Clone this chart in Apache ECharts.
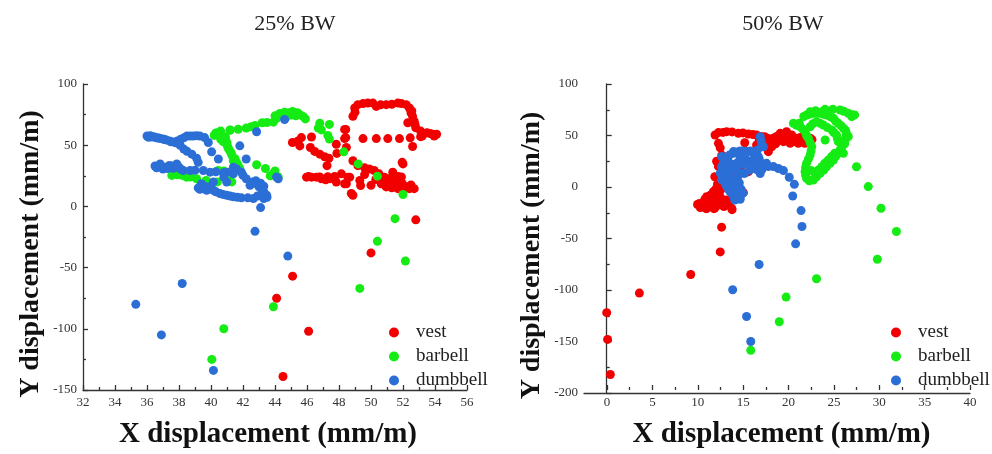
<!DOCTYPE html>
<html><head><meta charset="utf-8">
<script src="https://cdn.jsdelivr.net/npm/echarts@6/dist/echarts.min.js"></script>
<style>html,body{margin:0;padding:0;background:#fff}#c{width:992px;height:454px}</style>
</head><body><div id="c"></div>
<script>
// ---------- DATA ----------
const seriesNames = ['vest', 'barbell', 'dumbbell'];
const titles = ['25% BW', '50% BW'];
const xName = 'X displacement (mm/m)';
const yName = 'Y displacement (mm/m)';

// 25% BW
const vest25 = [
 [52.8,-11],[50.0,-38],[45.1,-57],[44.1,-75],[46.1,-102],[44.5,-139],
 [45.09,52.2],[45.44,53.5],[45.55,49.4],[45.65,56.2],[46.28,56.7],[46.21,48.1],[46.48,44.9],[46.8,42.7],
 [47.1,40.6],[47.37,39.3],[47.25,33.3],[47.83,50.8],[47.87,43.3],[48.42,62.9],[48.42,56.2],[48.46,48.1],
 [45.97,23.9],[46.28,23.9],[46.59,23.9],[46.9,22.6],[47.17,21.8],[47.42,22.6],[47.73,24.4],[47.83,19.9],
 [46.1,24.5],[46.8,24],[47.3,24.3],
 [48.15,26.6],[48.56,23.9],[48.46,18.5],[48.77,10.5],
 [48.87,73.6],[48.98,80.4],[49.0,77],[49.18,83.1],[49.5,84],[49.8,84.4],[50.12,84.4],[50.33,81.7],
 [50.6,83],[50.95,83.1],[51.3,83.5],[51.68,84.4],[51.9,84],
 [52.2,83.1],[52.4,80.4],[52.5,76.4],[52.55,78],[52.6,73.6],[52.7,69.6],[52.75,67],[52.8,64.3],[52.3,68.3],
 [53.1,61.5],[53.3,59.5],[53.5,60.2],[53.7,59.5],[53.86,58.9],[53.95,57.5],[54.1,58.9],[53.2,57.5],
 [48.35,55.4],[49.5,55.4],[50.33,55.4],[51.05,55.4],[51.78,55.4],[52.45,56.0],[53.1,57],[48.35,62.9],
 [52.6,48.9],[51.95,36.0],[52.0,34.7],
 [48.87,37.3],[49.18,33.3],[49.6,31.5],[49.9,30.6],[50.2,29.3],[50.5,26.6],[50.84,23.9],[51.1,22.5],
 [51.36,21.2],[51.68,19.9],[51.95,18.8],[51.36,28],[51.7,24.5],[50.64,18.5],[50.95,15.9],[51.3,15.2],
 [51.68,14.5],[52.05,14.5],[52.4,14.5],[52.7,14.5],[50.0,17.2],[49.3,21.2],[49.35,17],[48.67,23.9],
 [48.35,18.5],[48.87,9.1],[49.6,26],[50.3,22],[50.7,21],[51.0,19.5],[51.6,17],[52.2,16],[52.5,17.5],[51.9,24]
];
const barbell25 = [
 [52.0,9.7],[51.5,-10],[50.4,-28.5],[52.15,-44.6],[49.3,-67],[43.9,-82],[40.8,-100],[40.05,-125],
 [48.3,44.6],[49.2,34.7],[50.4,24.7],
 [40.3,60],[40.6,61.5],[41.2,62.4],[41.7,63],[42.2,64],[42.5,65],[42.75,66],[43.2,68.3],[43.5,68.5],[43.9,68.8],
 [44.1,72],[44.3,76],[44.45,74.5],[44.6,77],[44.9,76.5],[45.0,74.7],[45.1,77.5],[45.3,74],[45.4,76.5],
 [45.55,75],[45.75,73.5],[45.9,71.5],[44.0,74],[44.7,73],
 [46.8,68],[46.7,64],[46.9,62.5],[47.4,67],[47.3,58],[47.4,55],
 [40.2,58],[40.45,60.2],[40.5,58.3],[40.6,55],[40.75,53],[40.9,54.8],[41.0,52],[40.98,50.8],[41.05,48.5],
 [41.1,47],[41.18,45.4],[41.25,43.8],[41.3,42],[41.39,37.3],[41.5,39],[41.6,36],[41.7,33.5],[41.8,31],
 [40.9,57],[41.18,62.3],[41.5,33],
 [37.55,25.3],[37.9,25.8],[38.2,25.3],[38.48,23.9],[38.7,24],[39.1,22.6],[39.7,21.2],[40.4,20],
 [41.18,21.2],[41.3,20],[40.45,29.3],[40.8,29],
 [42.85,34],[43.4,31],[43.7,25],[44.0,29],[44.2,24],[43.9,27]
];
const dumbbell25 = [
 [44.8,-40.6],[42.75,-20.4],[38.2,-63],[35.3,-80],[36.9,-105],[40.15,-134],[44.6,71],[42.85,61],
 [41.8,49.5],[42.2,38.7],[43.1,-1],
 [36.0,57.5],[36.1,56.5],[36.2,57.8],[36.3,56.8],[36.4,57],[36.5,56.5],[36.6,56],[36.7,55.8],[36.8,55.6],
 [37.0,55],[37.1,54.6],[37.2,54.3],[37.4,53.5],[37.5,52.8],[37.65,52.7],[37.8,52],
 [37.9,53.5],[38.1,54.8],[38.3,56],[38.5,57.5],[38.7,57.5],[38.9,57.5],[39.1,57.8],[39.3,57.5],
 [39.6,56.2],[39.83,52.2],[40.04,44.6],[38.07,50.0],[38.3,46.8],[38.5,45],[38.8,42.7],[39.1,39.3],[39.2,36.0],
 [36.5,33],[36.6,31.5],[36.82,34.7],[36.9,32],[37.0,30.6],[37.2,32],[37.3,31],[37.4,33.5],[37.55,33],
 [37.65,31.2],[37.86,34.7],[38.0,32],[38.1,30.6],
 [38.27,29.3],[38.7,29.3],[39.0,29.5],[39.52,29.3],[39.94,28],[40.3,28.3],[40.77,27.4],[41.0,28],
 [41.6,30.6],[41.9,28],[42.2,22.6],[42.6,20],[42.85,18.5],[43.0,16],[43.16,14.5],[43.3,12],[43.48,9.1],
 [43.3,6.5],[43.5,7.5],[43.1,19],[43.3,16.5],
 [39.2,15.1],[39.3,14],[39.4,18.5],[39.5,14.5],[39.6,16.5],[39.73,13.2],[39.9,16],[40.15,13.2],[40.3,12],
 [40.56,10.5],[40.75,9.8],[40.98,9.1],[41.2,8.4],[41.4,7.8],[41.65,7.4],[41.9,7.0],[42.3,7],[42.65,6.5],
 [42.9,8.5],[43.2,10.5],[40.15,20],[40.98,19.9],[40.8,24],[41.4,26.6],[42.0,25.3],
 [42.44,17.2],[42.8,21],[44.1,24],[44.2,22.5],[40.46,38.7],[41.4,32]
];

// 50% BW
const vest50 = [
 [0,-122],[0.1,-148],[0.4,-182],[3.6,-103],[9.25,-85],[12.5,-63],[12.65,-39],[13.8,-22],[15.05,-5.5],
 [11.93,50.5],[12.3,52.8],[12.3,42.4],[12.8,53],[13.2,53.7],[13.8,53.5],[14.5,52.1],[15.0,52.5],[15.6,51.5],
 [16.1,51],[16.5,50.5],[17.0,49],[17.4,48.8],[17.8,47],[18.35,47.3],[18.7,49],[19.1,52.1],[19.4,50.5],
 [19.8,53.7],[20.0,47],[20.37,50.5],[20.6,47],[20.9,47.3],[21.3,48],[21.65,45.6],[22.0,45],[22.4,47.3],[22.6,46],
 [19.45,44],[18.17,39.1],[17.8,34.3],[17.25,40.8],[20.2,42.4],[21.1,42.4],[16.5,40.8],[15.2,43],
 [18.8,46],[21.3,45.7],[19.6,48],[18.6,42],[19.9,44.5],[20.8,44],[21.8,42.5],[17.6,43],[16.8,45],
 [12.67,31],[12.5,38],[12.1,25],[12.3,20],[12.67,16.5],[13.58,19.7],[14.7,18.2],[13.77,11.7],[15.6,14.9],[14.3,14],
 [11.9,10],[12.9,9],[12.2,3],[12.6,-2],[12.0,-2],[13.6,4],[14.4,-1],[12.4,-5],
 [11.0,-9.4],[11.74,-4.6],[10.64,-15.8],[10.46,-18.4],[11.38,-19.1],[12.29,-17.5],[11.74,-12.6],
 [13.77,-20.7],[13.2,-12.6],[12.48,-9.4],[10.0,-17],[10.3,-20],[11.0,-21],[11.8,-21],[12.5,-15.7],
 [11.0,-14],[10.8,-12],[10.2,-16],[10.8,-18],[11.6,-17],[12.0,-14],[11.4,-8],[11.9,-7],[12.7,-12],
 [12.9,-19],[13.4,-17],[10.9,-20.8],[11.9,-20.5]
];
const barbell50 = [
 [31.9,-43.2],[30.2,-20.6],[28.8,0.4],[27.5,19.7],[29.8,-70.1],[23.1,-89.1],[19.75,-106.9],[19.0,-130.8],
 [15.86,-158.6],[26.06,32.7],[24.05,45.6],
 [20.55,61.8],[20.9,60],[21.2,62],[21.3,58.5],[21.6,56],[21.84,53.7],[22.0,50],[22.2,47.3],[22.4,43],
 [22.58,39.1],[22.5,35],[22.4,31.1],[22.2,27],[22.0,23],[21.9,19],[21.84,14.9],[21.9,11.5],
 [22.0,8.4],[22.3,6],[22.75,6.8],[23.1,10],[23.5,13.3],[23.9,16.5],[24.2,19.7],[24.6,23],[24.96,26.2],
 [25.2,29.5],[25.5,32.7],[25.7,36],[25.9,39.1],[26.1,42.5],[26.25,45.6],[26.35,48.8],
 [26.4,52.1],[26.3,55],[26.06,57],[25.8,59.5],[25.5,61.8],[25.2,64],[24.96,66.7],[24.6,68.3],[24.2,69.9],
 [23.85,70.7],[23.5,71.5],[23.1,71.5],[22.75,71.5],[22.35,70.7],[22.0,69.9],[21.7,68.5],
 [22.4,73.1],[23.0,74],[23.8,73.5],[24.05,75.4],[24.9,75.5],[25.7,74.8],[26.1,73.5],[26.6,71.5],
 [27.0,70.2],[26.98,68.3],[27.3,70],[22.4,58.5],[22.7,61.5],[23.5,61.8],[24.3,57.7],[25.0,52.9],[25.4,47],
 [23.1,63.4],[23.86,60.2],[24.8,55.3],[25.3,50.5],[25.5,44],[22.94,13.3],[23.68,19.7],[24.4,26.2],
 [25.1,32.7],[26.6,49],[26.2,42],[22.5,16],[23.3,16.5],[24.0,23],[24.75,29.5]
];
const dumbbell50 = [
 [15.86,-150],[15.4,-125.7],[13.87,-99.8],[16.78,-75.2],[20.8,-55.2],[21.5,-38.4],[21.4,-22.9],
 [20.48,-8.7],[20.66,2.6],[20.1,9.5],[19.46,15.9],[18.36,19.8],[17.8,19.8],[17.07,40.8],[16.9,48.8],
 [17.25,39.1],[17.0,45],[16.6,36],[16.3,23],[17.3,21],[18.9,18],
 [13.2,29.4],[13.94,32.7],[14.87,32.7],[15.6,34.3],[16.5,31.1],[16.9,23],[12.84,23],[12.67,13.3],
 [13.03,3.6],[13.58,-4.6],[14.1,-12.6],[14.7,-9.4],[14.5,0.3],[13.94,6.8],[13.77,16.5],[14.3,23],
 [15.4,24.6],[15.97,19.7],[15.2,13.3],[12.66,29.5],[13.95,34.4],[14.68,35],[15.4,34.4],[16.15,32.7],
 [16.7,29.5],[17.07,16.6],[16.15,19.8],[15.4,26.3],[14.68,27.9],[13.2,26.3],[12.66,19.8],[12.5,13.4],
 [12.66,6.9],[13.2,0.4],[13.77,-6.1],[14.1,-11],[13.95,3.6],[13.2,16.6],[13.58,23],[14.3,16.6],
 [15.05,13.4],[15.78,16.6],[16.15,26.3],[17.6,23],
 [12.9,27],[13.5,31],[14.3,34],[15.0,35],[15.8,35],[16.4,33.5],[16.8,27],[17.0,20],[16.9,13],[16.5,17],
 [15.8,21],[15.0,22],[14.2,20],[13.6,13.5],[13.4,8],[13.5,1],[13.9,-3],[14.3,-8],[14.7,-12],[15.0,-6],
 [14.8,-2],[14.6,4],[14.4,9],[12.9,18],[12.8,8.5],[13.4,-2],[14.0,-9.5]
];

const x25 = {min: 32, max: 56, interval: 2};
const y25 = {min: -150, max: 100, interval: 50};
const x50 = {min: -2.5, max: 40, interval: 5};
const y50 = {min: -200, max: 100, interval: 50};

// ---------- CHART ----------
const colors = ['#f20000', '#14ec14', '#2b6fd6'];
const serif = 'Liberation Serif, Times New Roman, serif';
const lineStyle = {color: '#333', width: 1.3};

function yAx(grid, r) {
  return {
    type: 'value', gridIndex: grid, min: r.min, max: r.max, interval: r.interval,
    axisLine: {show: true, lineStyle: lineStyle},
    axisTick: {show: true, inside: true, length: 5, lineStyle: lineStyle},
    minorTick: {show: true, splitNumber: 2, length: 3, lineStyle: lineStyle},
    splitLine: {show: false},
    axisLabel: {color: '#333', fontFamily: serif, fontSize: 13, margin: 6},
    name: yName, nameLocation: 'middle', nameGap: 38,
    nameTextStyle: {fontFamily: serif, fontWeight: 'bold', fontSize: 28, color: '#111', padding: [0, 34, 0, 0]}
  };
}

const option = {
  animation: false,
  color: colors,
  title: [
    {text: titles[0], left: 290, top: 8, textAlign: 'center', textStyle: {fontFamily: serif, fontWeight: 'normal', fontSize: 22, color: '#222'}},
    {text: titles[1], left: 778, top: 8, textAlign: 'center', textStyle: {fontFamily: serif, fontWeight: 'normal', fontSize: 22, color: '#222'}}
  ],
  grid: [
    {left: 83, top: 84, width: 384, height: 310},
    {left: 584, top: 84, width: 386, height: 309},
    {left: 607, top: 84, width: 363, height: 309}
  ],
  legend: [
    {orient: 'vertical', left: 384, top: 318, itemWidth: 10, itemHeight: 10, itemGap: 5, icon: 'circle',
     data: seriesNames, textStyle: {fontFamily: serif, fontSize: 19, color: '#222', lineHeight: 19, padding: [0,0,0,12]}},
    {orient: 'vertical', left: 886, top: 318, itemWidth: 10, itemHeight: 10, itemGap: 5, icon: 'circle',
     data: seriesNames, textStyle: {fontFamily: serif, fontSize: 19, color: '#222', lineHeight: 19, padding: [0,0,0,12]}}
  ],
  xAxis: [
    {type: 'value', gridIndex: 0, min: x25.min, max: x25.max, interval: x25.interval,
     axisLine: {show: true, onZero: false, lineStyle: lineStyle},
     axisTick: {show: true, inside: true, length: 5, lineStyle: lineStyle},
     minorTick: {show: true, splitNumber: 2, length: 3, lineStyle: lineStyle},
     splitLine: {show: false},
     axisLabel: {color: '#333', fontFamily: serif, fontSize: 13, margin: 6},
     name: xName, nameLocation: 'middle', nameGap: 30,
     nameTextStyle: {fontFamily: serif, fontWeight: 'bold', fontSize: 29, color: '#111', padding: [0, 14, 0, 0]}},
    {type: 'value', gridIndex: 1, min: x50.min, max: x50.max,
     axisLine: {show: true, onZero: false, lineStyle: lineStyle},
     axisTick: {show: false}, axisLabel: {show: false}, splitLine: {show: false}},
    {type: 'value', gridIndex: 2, min: 0, max: x50.max, interval: x50.interval,
     axisLine: {show: false, onZero: false},
     axisTick: {show: true, inside: true, length: 5, lineStyle: lineStyle},
     minorTick: {show: true, splitNumber: 2, length: 3, lineStyle: lineStyle},
     splitLine: {show: false},
     axisLabel: {color: '#333', fontFamily: serif, fontSize: 13, margin: 6},
     name: xName, nameLocation: 'middle', nameGap: 30,
     nameTextStyle: {fontFamily: serif, fontWeight: 'bold', fontSize: 29, color: '#111', padding: [0, 14, 0, 0]}}
  ],
  yAxis: [
    yAx(0, y25),
    yAx(1, y50),
    {type: 'value', gridIndex: 2, min: y50.min, max: y50.max, show: false}
  ],
  series: [
    {name: 'vest', type: 'scatter', xAxisIndex: 0, yAxisIndex: 0, data: vest25},
    {name: 'barbell', type: 'scatter', xAxisIndex: 0, yAxisIndex: 0, data: barbell25},
    {name: 'dumbbell', type: 'scatter', xAxisIndex: 0, yAxisIndex: 0, data: dumbbell25},
    {name: 'vest', type: 'scatter', xAxisIndex: 1, yAxisIndex: 1, data: vest50},
    {name: 'barbell', type: 'scatter', xAxisIndex: 1, yAxisIndex: 1, data: barbell50},
    {name: 'dumbbell', type: 'scatter', xAxisIndex: 1, yAxisIndex: 1, data: dumbbell50}
  ].map((s, i) => Object.assign(s, {symbolSize: 9, itemStyle: {color: colors[i % 3], opacity: 1}}))
};

const chart = echarts.init(document.getElementById('c'), null, {renderer: 'canvas'});
chart.setOption(option);
</script>
</body></html>
